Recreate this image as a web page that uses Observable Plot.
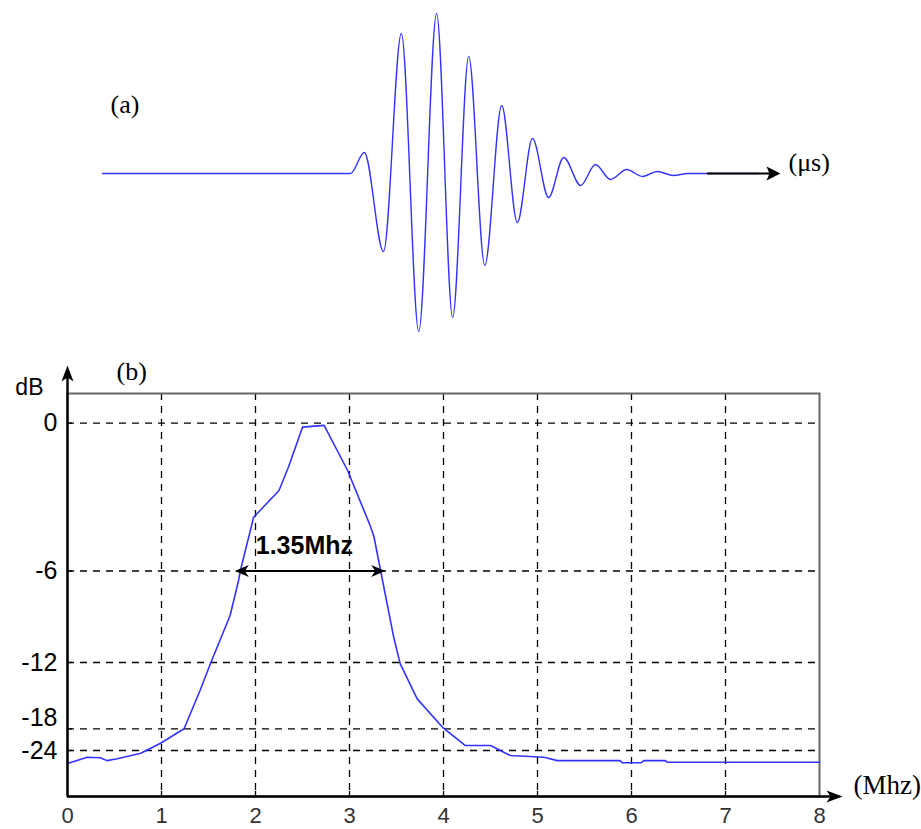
<!DOCTYPE html>
<html>
<head>
<meta charset="utf-8">
<script src="https://cdn.jsdelivr.net/npm/d3@7"></script>
<script src="https://cdn.jsdelivr.net/npm/@observablehq/plot@0.6"></script>
<style>
  html, body { margin: 0; padding: 0; background: #fff; }
  svg { display: block; }
</style>
</head>
<body>
<div id="panelA"></div>
<div id="panelB"></div>
<script>
// ---------- Panel (a): received pulse (extrema) ----------
const waveTime = [0, 5.56, 5.87, 6.30, 6.70, 7.09, 7.49, 7.85, 8.21, 8.57, 8.95, 9.30, 9.64, 10.00, 10.34, 10.72, 11.05, 11.39, 11.75, 12.11, 12.44, 12.80, 13.12, 14.69];
const waveAmp  = [0, 0, 0.133, -0.494, 0.886, -1.0, 1.013, -0.911, 0.741, -0.582, 0.430, -0.310, 0.222, -0.152, 0.101, -0.076, 0.057, -0.038, 0.025, -0.019, 0.013, -0.013, 0, 0];
const timeAxisEnd = 15.2;

// ---------- Panel (b): spectrum ----------
const freqMHz = [0, 0.21, 0.35, 0.42, 0.53, 0.78, 0.99, 1.24, 1.41, 1.52, 1.73, 1.82, 1.84, 1.91, 1.98, 2.25, 2.35, 2.50, 2.73, 2.98, 3.22, 3.26, 3.33, 3.47, 3.54, 3.72, 3.99, 4.23, 4.50, 4.71, 5.07, 5.21, 5.88, 5.90, 6.10, 6.13, 6.36, 6.38, 8.0];
const levelDB = [-27.6, -25.85, -26.0, -26.8, -26.3, -24.75, -21.98, -18.0, -14.53, -12.12, -8.92, -6.62, -5.97, -4.90, -3.82, -2.73, -1.79, -0.16, -0.09, -1.92, -4.16, -4.6, -5.97, -10.34, -12.12, -15.29, -17.86, -22.6, -22.6, -25.38, -25.85, -26.8, -26.8, -27.4, -27.4, -26.8, -26.8, -27.23, -27.23];

const xTicks = [0, 1, 2, 3, 4, 5, 6, 7, 8];
const xGrid = [1, 2, 3, 4, 5, 6, 7];
const yTicks = [0, -6, -12, -18, -24];
const yLabelsMain = [0, -6, -12, -24];
const yLabelsRaised = [-18];

const bwFrom = 1.78, bwTo = 3.38, bwLevel = -6, bwCenter = 2.52;
const bwLabel = "1.35Mhz";

const BLUE = "#3333ff";
const SANS = "Liberation Sans, Arial, sans-serif";
const SERIF = "Liberation Serif, Times New Roman, serif";

// filled, slightly notched arrowhead pointing to +x with its tip at the origin
function arrowHead(len, half, notch) {
  return {
    draw(ctx) {
      ctx.moveTo(0, 0);
      ctx.lineTo(-len, -half);
      ctx.lineTo(-len + notch, 0);
      ctx.lineTo(-len, half);
      ctx.closePath();
    }
  };
}

// ---------- Panel (a) ----------
const plotA = Plot.plot({
  width: 921,
  height: 340,
  marginLeft: 102,
  marginRight: 141,
  marginTop: 15,
  marginBottom: 9,
  style: { fontFamily: SANS, background: "#fff" },
  x: { domain: [0, timeAxisEnd], axis: null },
  y: { domain: [-1, 1], axis: null },
  marks: [
    Plot.line(waveAmp, { x: waveTime, y: waveAmp, curve: "monotone-x", stroke: BLUE, strokeWidth: 1.4 }),
    Plot.ruleY([0], { y: d => d, insetLeft: 605, insetRight: 8, stroke: "#000", strokeWidth: 2.2 }),
    Plot.dot([0], { frameAnchor: "right", symbol: arrowHead(14, 7, 3), fill: "#000", stroke: "none" }),
    Plot.text(["(μs)"], { frameAnchor: "right", dx: 8, dy: -11, textAnchor: "start", fontFamily: SERIF, fontSize: 26, fill: "#000" }),
    Plot.text(["(a)"], { frameAnchor: "top-left", dx: 8, dy: 79, textAnchor: "start", fontFamily: SERIF, fontSize: 26, fill: "#000" })
  ]
});
document.getElementById("panelA").appendChild(plotA);

// ---------- Panel (b) ----------
const yDomainPiece = [-36.7, -24, -18, -12, -6, 0, 1.19];
const yRangePiece = [456, 410, 388.3, 322, 230.5, 82.7, 53];
const yBottom = yDomainPiece[0];

const plotB = Plot.plot({
  width: 921,
  height: 489,
  marginLeft: 67,
  marginRight: 102,
  marginTop: 53,
  marginBottom: 33,
  style: { fontFamily: SANS, background: "#fff", overflow: "visible" },
  x: { domain: [0, 8], axis: null },
  y: { type: "linear", domain: yDomainPiece, range: yRangePiece, axis: null },
  marks: [
    Plot.ruleX(xGrid, { x: d => d, stroke: "#000", strokeWidth: 1.3, strokeDasharray: "7,6" }),
    Plot.ruleY(yTicks, { y: d => d, stroke: "#000", strokeWidth: 1.3, strokeDasharray: "7,6" }),
    Plot.frame({ stroke: "#666", strokeWidth: 2 }),
    Plot.tickX(xGrid, { x: d => d, insetTop: 398, stroke: "#000", strokeWidth: 1.3 }),
    Plot.tickY(yTicks, { y: d => d, insetRight: 747, stroke: "#000", strokeWidth: 1.3 }),
    Plot.line(levelDB, { x: freqMHz, y: levelDB, stroke: BLUE, strokeWidth: 1.6 }),
    // axes with arrows
    Plot.ruleX([0], { x: d => d, insetTop: -20, stroke: "#000", strokeWidth: 2.4 }),
    Plot.ruleY([yBottom], { y: d => d, insetRight: -18, stroke: "#000", strokeWidth: 2.4 }),
    Plot.dot([0], { frameAnchor: "top-left", dy: -28, rotate: -90, symbol: arrowHead(16, 6, 4), fill: "#000", stroke: "none" }),
    Plot.dot([0], { frameAnchor: "bottom-right", dx: 23, symbol: arrowHead(16, 6, 4), fill: "#000", stroke: "none" }),
    // bandwidth annotation
    Plot.ruleY([bwLevel], { y: d => d, x1: bwFrom, x2: bwTo, insetLeft: 6, insetRight: 6, stroke: "#000", strokeWidth: 2.2 }),
    Plot.dot([bwFrom], { x: d => d, y: bwLevel, rotate: 180, symbol: arrowHead(14, 6, 4), fill: "#000", stroke: "none" }),
    Plot.dot([bwTo], { x: d => d, y: bwLevel, symbol: arrowHead(14, 6, 4), fill: "#000", stroke: "none" }),
    Plot.text([bwLabel], { x: bwCenter, y: bwLevel, dy: -25, text: d => d, fontWeight: "bold", fontSize: 25, fontFamily: SANS, fill: "#000" }),
    // tick labels
    Plot.text(xTicks, { x: d => d, text: d => String(d), frameAnchor: "bottom", dy: 11, lineAnchor: "top", fontSize: 22, fontFamily: SANS, fill: "#333" }),
    Plot.text(yLabelsMain, { y: d => d, text: d => String(d), frameAnchor: "left", dx: -10, textAnchor: "end", fontSize: 25, fontFamily: SANS, fill: "#000" }),
    Plot.text(yLabelsRaised, { y: d => d, text: d => String(d), frameAnchor: "left", dx: -10, dy: -11, textAnchor: "end", fontSize: 25, fontFamily: SANS, fill: "#000" }),
    // axis titles and panel label
    Plot.text(["dB"], { frameAnchor: "top-left", dx: -24, dy: -15, textAnchor: "end", fontSize: 23, fontFamily: SANS, fill: "#000" }),
    Plot.text(["(b)"], { frameAnchor: "top-left", dx: 49, dy: -32, textAnchor: "start", fontSize: 26, fontFamily: SERIF, fill: "#000" }),
    Plot.text(["(Mhz)"], { frameAnchor: "bottom-right", dx: 34, dy: -3, textAnchor: "start", fontSize: 27, fontFamily: SERIF, fill: "#000" })
  ]
});
document.getElementById("panelB").appendChild(plotB);
</script>
</body>
</html>
